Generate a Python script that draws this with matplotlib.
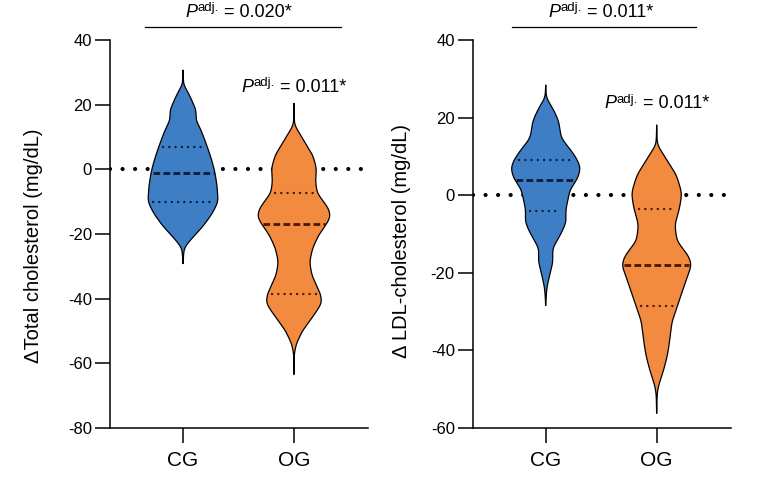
"""
Violin plots: change in total cholesterol and LDL-cholesterol, CG vs OG.
Writes out.png (758x486).
"""
import numpy as np
import matplotlib
matplotlib.use("Agg")
import matplotlib.pyplot as plt
from matplotlib.transforms import ScaledTranslation

plt.rcParams["font.family"] = ["Liberation Sans", "DejaVu Sans"]

GROUPS = ["CG", "OG"]
FILL = {"CG": "#3d7ec4", "OG": "#f28a40"}
INNER = {"CG": "#0b1b3c", "OG": "#4a1600"}

# ---- total cholesterol: density profile (value level, relative width)
TC_CG_LEVELS = [30.7, 26.1, 23.5, 18.3, 15.2, 12.1, 7.0, 2.9, -1.0, -5.4, -10.0, -13.6, -17.7, -21.9, -24.4, -29.1]
TC_CG_DENS = [0, 0.5, 5.7, 13.3, 13.0, 18.3, 24.5, 29.0, 32.3, 34.5, 35.5, 29.7, 20.0, 7.3, 1.0, 0]
TC_CG_QUART = [7.0, -1.0, -10.0]

TC_OG_LEVELS = [20.4, 13.7, 8.5, 4.4, 0.3, -3.8, -7.4, -12.1, -14.7, -16.7, -20.3, -24.4, -28.6, -32.7,
                -38.9, -41.5, -45.6, -49.7, -53.8, -56.9, -63.3]
TC_OG_DENS = [0, 0.5, 10.8, 19.0, 22.8, 21.7, 23.5, 35.0, 37.0, 33.3, 25.0, 18.8, 15.8, 18.0,
              27.3, 28.0, 19.0, 9.0, 2.5, 0.3, 0]
TC_OG_QUART = [-7.4, -16.8, -38.7]

# ---- LDL-cholesterol
LDL_CG_LEVELS = [28.4, 25.0, 22.4, 19.0, 14.7, 11.2, 9.1, 7.0, 3.9, 1.8, -0.4, -2.1, -4.0, -6.8,
                 -10.2, -13.7, -17.1, -20.5, -24.0, -28.3]
LDL_CG_DENS = [0, 0.5, 7.3, 13.3, 15.5, 26.7, 32.0, 35.5, 31.7, 25.0, 23.0, 21.7, 20.0, 21.0,
               15.0, 6.7, 7.5, 4.0, 1.0, 0]
LDL_CG_QUART = [9.0, 4.0, -4.0]

LDL_OG_LEVELS = [18.1, 13.0, 9.5, 5.2, 0.5, -3.5, -7.6, -11.9, -15.4, -17.9, -22.2, -28.5, -32.5,
                 -37.7, -41.1, -45.4, -48.9, -51.0, -56.1]
LDL_OG_DENS = [0, 0.5, 9.3, 20.0, 25.5, 23.0, 18.3, 20.5, 31.7, 35.5, 29.3, 21.0, 15.5,
               13.0, 11.0, 6.7, 2.0, 0.5, 0]
LDL_OG_QUART = [-3.5, -18.0, -28.5]

PANELS = [
    dict(ylabel="\u0394Total cholesterol (mg/dL)", ylim=(-80, 40), yticks=[-80, -60, -40, -20, 0, 20, 40],
         violins={"CG": (TC_CG_LEVELS, TC_CG_DENS, TC_CG_QUART),
                  "OG": (TC_OG_LEVELS, TC_OG_DENS, TC_OG_QUART)},
         p_top="0.020*", p_og="0.011*", y_line=44.1, y_top=47.2, y_og=24.0, span=(0.66, 2.42),
         label_xy=(-0.258, 0.469)),
    dict(ylabel="\u0394 LDL-cholesterol (mg/dL)", ylim=(-60, 40), yticks=[-60, -40, -20, 0, 20, 40],
         violins={"CG": (LDL_CG_LEVELS, LDL_CG_DENS, LDL_CG_QUART),
                  "OG": (LDL_OG_LEVELS, LDL_OG_DENS, LDL_OG_QUART)},
         p_top="0.011*", p_og="0.011*", y_line=43.3, y_top=46.0, y_og=22.4, span=(0.70, 2.35),
         label_xy=(-0.24, 0.481)),
]

HALF_MAX = 0.33  # widest half-width in category units
DENS_MAX = 37.0


def profile(levels, dens):
    lv = np.asarray(levels, float)[::-1]
    dn = np.asarray(dens, float)[::-1]
    step = 0.1
    y = np.arange(lv[0], lv[-1] + step / 2, step)
    w = np.interp(y, lv, dn)
    sig = 10
    xk = np.arange(-3 * sig, 3 * sig + 1)
    kern = np.exp(-0.5 * (xk / sig) ** 2)
    kern /= kern.sum()
    w = np.convolve(np.pad(w, 3 * sig, mode="constant"), kern, mode="valid")
    w[0] = w[-1] = 0
    return y, w / DENS_MAX * HALF_MAX


def draw_violin(ax, x0, name, levels, dens, quart):
    y, w = profile(levels, dens)
    ax.fill_betweenx(y, x0 - w, x0 + w, facecolor=FILL[name], edgecolor="none", zorder=3)
    xs = np.concatenate([x0 - w, (x0 + w)[::-1], [x0 - w[0]]])
    ys = np.concatenate([y, y[::-1], [y[0]]])
    ax.plot(xs, ys, color="black", lw=0.9, zorder=4, solid_joinstyle="round")
    for i, q in enumerate(quart):
        hw = np.interp(q, y, w) - 0.012
        if i == 1:
            ax.plot([x0 - hw, x0 + hw], [q, q], color=INNER[name], lw=2.0,
                    linestyle=(0, (2.4, 1.2)), zorder=5)
        else:
            ax.plot([x0 - hw + 0.03, x0 + hw - 0.03], [q, q], color=INNER[name], lw=1.7,
                    linestyle=(0, (0.05, 2.6)), dash_capstyle="round", zorder=5)


def p_label(fig, ax, x, y, value):
    # "P" italic + raised small "adj." + " = value", centred on x
    renderer = fig.canvas.get_renderer()
    parts = [("P", 13, "italic", 0.0), ("adj.", 9.5, "normal", 4.0), (" = " + value, 13, "normal", 0.0)]
    texts, widths = [], []
    for s, size, style, rise in parts:
        t = ax.text(x, y, s, fontsize=size, style=style, ha="left", va="baseline", clip_on=False)
        texts.append((t, rise))
        widths.append(t.get_window_extent(renderer).width)
    total = sum(widths)
    off = -total / 2
    for (t, rise), wd in zip(texts, widths):
        t.set_transform(ax.transData + ScaledTranslation(off / fig.dpi, rise / 72, fig.dpi_scale_trans))
        off += wd


fig = plt.figure(figsize=(7.58, 4.86), dpi=100)
lefts = [110 / 758, 472.7 / 758]
for left, pn in zip(lefts, PANELS):
    ax = fig.add_axes([left, 58 / 486, 258 / 758, 388 / 486])
    ax.set_xlim(0.342, 2.667)
    ax.set_ylim(*pn["ylim"])
    ax.axhline(0, color="black", lw=3.0, linestyle=(0, (0.01, 3.0)),
               dash_capstyle="round", zorder=2)
    for i, g in enumerate(GROUPS, start=1):
        lv, dn, qt = pn["violins"][g]
        draw_violin(ax, i, g, lv, dn, qt)

    ax.set_xticks([1, 2])
    ax.set_xticklabels(GROUPS, fontsize=15)
    ax.set_yticks(pn["yticks"])
    ax.set_yticklabels([str(t) for t in pn["yticks"]], fontsize=12)
    ax.tick_params(axis="y", length=10.5, width=1.1, pad=2.4)
    ax.tick_params(axis="x", length=10.5, width=1.1, pad=6)
    for s in ["top", "right"]:
        ax.spines[s].set_visible(False)
    for s in ["left", "bottom"]:
        ax.spines[s].set_linewidth(1.1)
    ax.set_ylabel(pn["ylabel"], fontsize=14.5)
    ax.yaxis.set_label_coords(*pn["label_xy"])

    # significance annotations
    ax.plot(pn["span"], [pn["y_line"]] * 2, color="black", lw=0.9, clip_on=False)
    p_label(fig, ax, 1.5, pn["y_top"], pn["p_top"])
    p_label(fig, ax, 2.0, pn["y_og"], pn["p_og"])

fig.savefig("out.png", dpi=100)
